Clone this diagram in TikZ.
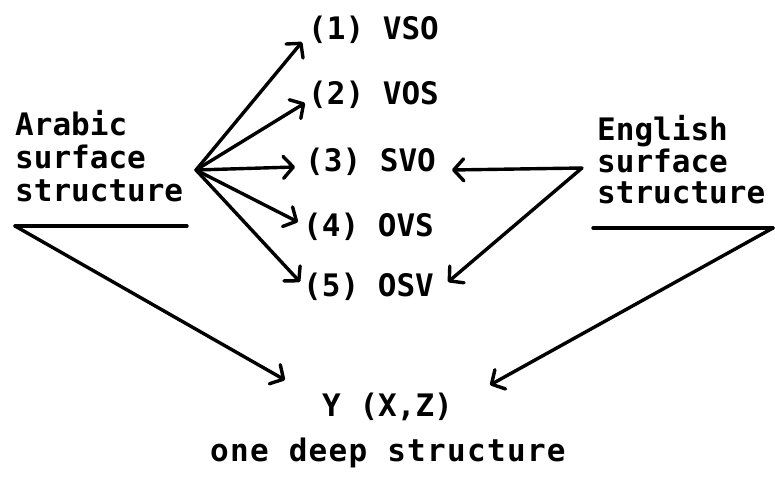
\documentclass[tikz,border=0pt]{standalone}
\usepackage{fontspec}
\setmonofont{DejaVu Sans Mono}
\usetikzlibrary{arrows.meta}
\begin{document}
\begin{tikzpicture}[x=1pt,y=-1pt,
  lbl/.style={inner sep=0pt, anchor=base west, font=\fontsize{31}{33}\selectfont\ttfamily\bfseries},
  conn/.style={line width=3.4pt, line cap=round, line join=round},
  arr/.style={conn, -{Straight Barb[length=10pt,width=22pt,line cap=round,line join=round]}}]
\useasboundingbox (0,0) rectangle (775,487);
% option labels
\node[lbl] (n1) at (308,40) {(1) VSO};
\node[lbl] (n2) at (308,104) {(2) VOS};
\node[lbl] (n3) at (305,171) {(3) SVO};
\node[lbl] (n4) at (303,236) {(4) OVS};
\node[lbl] (n5) at (303,296) {(5) OSV};
% Arabic
\node[lbl] (ar1) at (15,135) {Arabic};
\node[lbl] (ar2) at (15,168) {surface};
\node[lbl] (ar3) at (15,201) {structure};
% English
\node[lbl] (en1) at (597,140) {English};
\node[lbl] (en2) at (597,172) {surface};
\node[lbl] (en3) at (597,203) {structure};
% deep structure
\node[lbl] (y) at (322,416) {Y (X,Z)};
\node[lbl] (ds) at (210,461) {\addfontfeature{LetterSpace=4.2}one deep structure};
% coordinates
\coordinate (ao) at (196,170);
\coordinate (eo) at (582,168);
\coordinate (t1) at (302,42);
\coordinate (t2) at (305,103);
\coordinate (t3) at (295,167);
\coordinate (t4) at (298,222);
\coordinate (t5) at (300,282);
\coordinate (e3) at (452,170);
\coordinate (e5) at (448,282);
\coordinate (aul) at (15,226);
\coordinate (aur) at (187,226);
\coordinate (eul) at (593,228);
\coordinate (eur) at (773,228);
\coordinate (yl) at (285,380);
\coordinate (yr) at (490,385);
% Arabic fan
\foreach \t in {t1,t2,t3,t4,t5} \draw[arr] (ao) -- (\t);
% English arrows
\draw[arr] (eo) -- (e3);
\draw[arr] (eo) -- (e5);
% underlines and arrows to deep structure
\draw[conn] (aur) -- (aul);
\draw[arr] (aul) -- (yl);
\draw[conn] (eul) -- (eur);
\draw[arr] (eur) -- (yr);
\end{tikzpicture}
\end{document}
